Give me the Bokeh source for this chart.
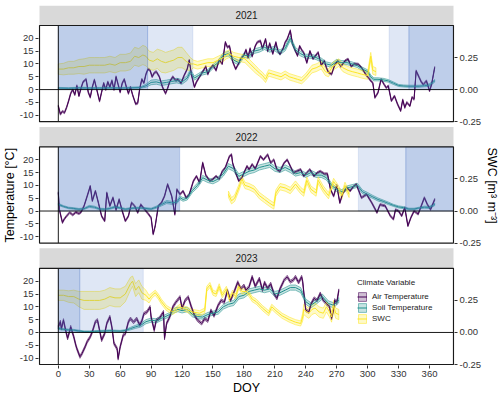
import math
from bokeh.plotting import figure
from bokeh.models import FixedTicker, LinearAxis, Legend, LegendItem, Range1d, Title
from bokeh.embed import file_html
from bokeh.resources import INLINE
from bokeh.core.properties import value

# ---------------- data ----------------
years = [2021, 2022, 2023]
var_names = ["Air Temperature", "Soil Temperature", "SWC"]
var_colors = ["#440154", "#21908C", "#FDE725"]
x_ticks = [0, 30, 60, 90, 120, 150, 180, 210, 240, 270, 300, 330, 360]
temp_ticks = [-10, -5, 0, 5, 10, 15, 20]
swc_ticks = [-0.25, 0.0, 0.25]
swc_tick_labels = ["-0.25", "0.00", "0.25"]
temp_limits = [-12.5, 25.0]
doy_limits = [-18.25, 383.25]
swc_factor = 50.0   # secondary axis: SWC = temperature / 50

# snow-cover periods (end None = to the panel edge)
snow_year = [2021, 2021, 2021, 2021, 2022, 2022, 2022, 2023, 2023]
snow_start = [0, 86.6, 320.8, 340.0, 0, 291.0, 337.0, 0, 20.8]
snow_end = [86.6, 130.5, 340.0, None, 117.7, 337.0, None, 20.8, 82.4]
snow_full = [True, False, False, True, True, False, True, True, False]

air_sd = [0.4, 0.4, 0.6]

air21 = [(0,-6.4),(2,-9.6),(4,-8.5),(6,-9.0),(8,-7.0),(10,-4.4),(12,-1.5),(14,0.0),(16,-2.0),(18,1.5),(20,-2.5),(22,0.5),(24,3.0),(27,4.0),(29,-1.0),(31,-3.0),(33,1.0),(35,3.8),(37,0.5),(40,-4.5),(42,-1.0),(44,2.5),(46,0.0),(48,3.0),(50,1.0),(52,3.5),(54,0.0),(56,5.0),(58,2.0),(60,-1.0),(62,2.5),(64,4.0),(66,1.0),(68,-1.5),(70,1.0),(72,-2.0),(75,-5.6),(77,-5.3),(79,0.5),(81,4.0),(83,2.6),(85,6.0),(87,8.0),(89,7.5),(91,5.0),(93,6.5),(95,7.0),(98,5.0),(101,1.0),(104,-1.5),(106,0.5),(108,3.0),(111,5.0),(114,3.5),(116,4.0),(119,2.5),(122,5.5),(125,8.0),(127,11.5),(129,6.0),(132,1.0),(134,3.0),(137,5.0),(140,7.0),(143,9.0),(145,6.0),(147,8.0),(150,9.5),(153,7.5),(156,11.6),(159,10.0),(162,18.5),(164,16.5),(166,17.0),(169,11.0),(172,8.0),(174,9.5),(177,12.0),(180,13.5),(182,15.5),(184,12.5),(186,16.0),(188,13.0),(191,17.0),(193,18.5),(196,19.0),(198,16.0),(201,19.7),(203,15.0),(205,18.0),(208,14.0),(211,18.4),(213,15.0),(215,13.8),(218,16.0),(220,18.4),(222,19.7),(225,23.0),(227,18.0),(230,15.0),(232,13.2),(234,17.0),(236,15.5),(238,14.4),(241,10.5),(244,15.0),(247,12.0),(250,13.5),(252,14.5),(255,9.5),(258,11.2),(260,8.5),(262,6.7),(265,6.0),(268,9.5),(271,11.2),(274,9.0),(278,11.2),(281,11.9),(284,9.0),(287,10.0),(291,9.9),(294,8.6),(296,7.3),(299,5.4),(301,4.5),(303,3.4),(305,2.6),(307,-3.1),(308,-2.5),(310,-1.2),(313,4.0),(316,2.0),(318,0.7),(320,1.4),(323,-4.4),(326,-2.5),(329,-5.7),(332,-8.3),(334,-4.0),(336,-7.0),(338,-5.0),(341,-6.4),(343,-3.0),(345,-3.8),(347,7.3),(350,4.7),(352,3.0),(354,2.0),(357,3.4),(360,-0.5),(362,2.0),(365,8.6)]

soil21 = [(0,0.6,0.25),(10,0.5,0.25),(20,0.7,0.25),(30,0.6,0.25),(40,0.6,0.25),(50,0.7,0.25),(60,0.6,0.25),(70,0.7,0.25),(80,0.8,0.3),(85,1.5,0.6),(90,2.8,0.9),(95,3.0,0.9),(100,2.5,0.9),(105,2.8,0.9),(110,3.2,0.9),(115,3.5,0.9),(120,3.0,0.9),(125,4.5,0.9),(128,7.0,0.9),(132,4.5,0.8),(136,5.5,0.8),(140,6.5,0.8),(145,7.0,0.8),(150,9.0,0.8),(155,10.5,0.8),(160,13.5,0.9),(165,14.0,0.9),(170,11.5,0.9),(175,10.5,0.9),(180,13.5,0.9),(185,13.0,0.9),(190,15.0,0.9),(195,15.5,0.9),(200,16.5,0.9),(205,15.5,0.9),(210,16.0,0.9),(215,14.5,0.9),(220,16.0,0.9),(225,20.0,0.9),(230,15.5,0.9),(235,14.0,0.9),(240,13.0,0.8),(245,13.0,0.8),(250,12.5,0.8),(255,11.5,0.8),(260,10.0,0.8),(265,9.5,0.8),(270,11.0,0.8),(275,10.5,0.8),(280,10.5,0.8),(285,10.0,0.8),(290,9.3,0.7),(295,8.0,0.7),(300,7.0,0.7),(303,5.0,0.7),(306,4.0,0.6),(310,4.0,0.6),(315,3.8,0.6),(320,3.4,0.5),(325,2.5,0.5),(330,1.6,0.4),(335,1.4,0.4),(340,1.3,0.4),(345,1.3,0.4),(350,1.3,0.4),(355,1.5,0.4),(360,1.8,0.5),(365,3.4,0.5)]

swc21 = [(0,0.16,0.04),(5,0.16,0.045),(10,0.17,0.05),(15,0.17,0.05),(20,0.18,0.055),(25,0.18,0.06),(30,0.19,0.06),(35,0.19,0.06),(40,0.19,0.06),(45,0.19,0.06),(50,0.20,0.06),(55,0.19,0.06),(60,0.21,0.065),(65,0.21,0.065),(70,0.22,0.065),(74,0.26,0.07),(78,0.25,0.07),(82,0.27,0.075),(85,0.26,0.075),(88,0.23,0.07),(92,0.22,0.07),(96,0.24,0.075),(100,0.22,0.085),(104,0.21,0.08),(108,0.22,0.08),(112,0.23,0.08),(116,0.25,0.08),(120,0.25,0.08),(124,0.22,0.07),(128,0.20,0.05),(131,0.20,0.03),(135,0.19,0.03),(140,0.20,0.03),(145,0.21,0.03),(150,0.21,0.03),(155,0.23,0.03),(160,0.25,0.03),(163,0.27,0.03),(166,0.28,0.03),(170,0.26,0.03),(175,0.25,0.03),(181,0.24,0.03),(186,0.20,0.03),(191,0.16,0.03),(195,0.13,0.025),(198,0.11,0.025),(201,0.08,0.025),(204,0.13,0.025),(208,0.12,0.025),(212,0.11,0.025),(216,0.10,0.025),(220,0.12,0.025),(224,0.10,0.025),(228,0.09,0.025),(232,0.08,0.025),(236,0.07,0.025),(240,0.10,0.025),(246,0.16,0.03),(250,0.17,0.03),(255,0.19,0.03),(259,0.14,0.03),(262,0.13,0.03),(266,0.18,0.03),(272,0.21,0.03),(276,0.17,0.03),(281,0.15,0.03),(285,0.14,0.03),(290,0.13,0.03),(294,0.12,0.03),(300,0.11,0.03),(303,0.26,0.03),(305,0.15,0.03),(308,0.14,0.03)]

air22 = [(0,7.1),(1,0.6),(4,-4.5),(6,-3.0),(8,-2.0),(11,-0.6),(14,-1.5),(17,-0.5),(20,-1.0),(22,-0.5),(25,2.0),(28,5.8),(31,9.7),(33,4.0),(36,7.8),(39,3.0),(42,-2.0),(45,-3.9),(47,7.1),(50,2.0),(53,5.2),(56,0.5),(59,4.5),(62,0.0),(65,-3.9),(68,-2.0),(71,3.2),(74,2.0),(77,-0.6),(80,2.5),(84,0.5),(87,-1.0),(90,-2.6),(92,-9.0),(94,-5.8),(97,2.0),(100,3.2),(103,5.8),(106,10.4),(110,5.8),(113,-1.3),(115,8.4),(118,6.5),(121,7.8),(124,5.2),(127,6.5),(131,11.7),(134,13.6),(137,11.0),(140,18.8),(143,14.0),(147,11.7),(150,12.5),(153,13.6),(156,12.5),(159,15.5),(162,17.0),(166,21.4),(168,22.0),(169,18.8),(172,14.9),(175,11.7),(178,13.0),(180,14.9),(183,17.5),(185,16.2),(188,18.2),(191,16.5),(196,21.4),(199,20.0),(203,22.0),(206,18.8),(209,20.0),(212,16.2),(215,15.5),(219,18.8),(222,20.0),(225,17.5),(228,14.9),(231,15.5),(235,16.2),(238,13.6),(241,15.0),(244,16.2),(248,13.6),(251,14.9),(254,15.5),(258,14.5),(261,14.5),(264,8.4),(267,5.8),(270,10.0),(273,3.2),(276,7.0),(280,9.1),(283,7.8),(286,9.5),(289,10.4),(294,5.2),(299,6.5),(304,3.2),(309,-0.6),(312,2.5),(317,2.0),(322,-1.9),(325,-3.2),(327,0.5),(330,0.0),(333,-1.9),(336,1.3),(339,-5.8),(342,-2.5),(345,0.0),(349,-1.2),(352,2.0),(355,5.2),(358,2.5),(361,0.6),(365,4.5)]

soil22 = [(0,2.6,0.4),(5,1.8,0.3),(10,1.2,0.3),(15,1.0,0.3),(20,0.7,0.3),(25,0.9,0.3),(30,1.8,0.4),(35,1.5,0.4),(40,0.8,0.3),(45,0.7,0.3),(50,1.0,0.3),(55,1.6,0.4),(60,1.2,0.3),(65,0.7,0.3),(70,1.0,0.3),(75,1.2,0.3),(80,1.2,0.3),(85,1.0,0.3),(90,0.8,0.3),(95,1.5,0.4),(100,2.5,0.5),(105,3.5,0.6),(110,3.2,0.6),(115,3.5,0.6),(118,5.2,0.7),(121,4.5,0.7),(125,5.0,0.7),(130,8.0,0.8),(135,10.0,0.9),(140,13.0,0.9),(145,12.0,0.9),(150,11.5,0.9),(155,12.5,0.9),(160,14.5,0.9),(165,17.5,1.0),(170,16.5,1.0),(175,13.5,1.0),(180,14.5,1.0),(185,15.5,1.0),(190,16.0,1.0),(195,17.0,1.0),(200,17.5,1.0),(205,18.0,1.0),(210,16.5,1.0),(215,16.0,1.0),(220,17.0,1.0),(225,16.0,1.0),(230,14.5,0.9),(235,15.0,0.9),(240,14.0,0.9),(245,15.0,0.9),(250,14.0,0.9),(255,14.0,0.9),(260,13.0,0.9),(265,10.0,0.8),(270,8.4,0.8),(275,7.5,0.8),(280,9.0,0.8),(285,9.5,0.8),(290,10.0,0.8),(295,7.5,0.7),(300,6.5,0.7),(305,5.5,0.6),(310,4.5,0.6),(315,3.8,0.5),(320,3.0,0.5),(325,2.2,0.4),(330,1.6,0.4),(335,1.3,0.4),(340,0.8,0.3),(345,0.8,0.3),(350,1.2,0.3),(355,1.5,0.4),(360,1.4,0.4),(365,2.6,0.5)]

swc22 = [(165,0.13,0.025),(168,0.08,0.025),(171,0.10,0.025),(175,0.18,0.025),(178,0.25,0.025),(181,0.20,0.025),(185,0.19,0.025),(190,0.17,0.025),(195,0.12,0.025),(200,0.09,0.025),(205,0.06,0.025),(209,0.04,0.025),(211,0.14,0.025),(215,0.19,0.025),(220,0.18,0.025),(225,0.16,0.025),(230,0.21,0.025),(235,0.16,0.025),(238,0.14,0.025),(241,0.24,0.025),(245,0.17,0.025),(250,0.14,0.025),(252,0.24,0.025),(257,0.17,0.025),(262,0.12,0.025),(267,0.23,0.025),(272,0.17,0.025),(275,0.12,0.025),(278,0.20,0.025),(282,0.13,0.025)]

air23 = [(0,2.2),(2,4.2),(3,1.5),(5,4.8),(7,1.0),(9,-2.3),(11,0.5),(12,2.2),(15,-1.7),(17,-5.0),(18,-6.3),(21,-9.5),(23,-8.2),(26,-5.6),(28,-3.6),(31,-1.7),(33,0.3),(36,4.2),(38,4.8),(40,0.9),(42,-3.0),(45,-0.4),(47,3.5),(50,6.1),(52,2.0),(54,-4.3),(57,-6.3),(58,-10.2),(60,-5.6),(63,-1.0),(65,-0.5),(68,4.2),(70,5.4),(73,4.0),(76,5.4),(79,2.9),(81,4.5),(83,7.3),(86,8.0),(89,9.9),(90,6.0),(93,0.9),(95,4.8),(98,5.5),(102,8.0),(103,-2.3),(105,3.5),(108,6.0),(111,9.9),(114,11.8),(118,13.8),(120,9.5),(123,12.5),(126,13.8),(129,10.0),(132,6.7),(135,4.8),(139,3.5),(142,5.4),(145,4.5),(148,8.6),(151,6.5),(155,10.6),(158,12.5),(161,11.8),(164,16.4),(167,12.5),(171,16.4),(174,19.6),(177,17.0),(180,18.3),(182,16.5),(185,17.8),(188,21.7),(191,18.0),(195,21.0),(198,16.5),(200,19.5),(203,17.2),(206,19.0),(209,15.2),(212,13.3),(215,17.0),(219,20.4),(222,21.7),(225,19.8),(228,20.5),(230,21.7),(233,19.5),(236,21.7),(237,19.8),(239,12.0),(240,8.7),(243,8.0),(245,11.0),(248,13.3),(251,12.5),(254,15.2),(257,12.5),(260,11.3),(263,10.0),(265,5.5),(267,9.0),(268,12.6),(270,11.5),(272,16.4)]

soil23 = [(0,1.6,0.4),(5,1.2,0.3),(10,1.0,0.3),(15,0.9,0.3),(20,0.6,0.3),(25,0.3,0.3),(30,0.3,0.3),(35,0.4,0.3),(40,0.5,0.3),(45,0.6,0.3),(50,0.7,0.3),(55,0.6,0.3),(60,0.5,0.3),(65,0.8,0.3),(70,1.5,0.5),(75,2.2,0.6),(80,2.8,0.7),(85,4.2,0.8),(90,4.8,0.8),(95,4.5,0.8),(100,5.5,0.8),(103,6.0,0.8),(108,7.0,0.8),(112,8.5,0.9),(116,9.0,0.9),(120,8.5,0.9),(125,9.0,0.9),(130,7.0,0.9),(135,6.2,0.8),(140,6.0,0.8),(145,7.0,0.8),(150,7.5,0.8),(155,8.0,0.9),(160,10.0,0.9),(165,11.0,1.0),(170,11.5,1.0),(175,14.0,1.0),(180,14.5,1.0),(185,16.0,1.0),(190,16.5,1.0),(195,17.0,1.0),(200,16.5,1.0),(205,17.0,1.0),(210,15.0,1.0),(215,15.5,1.0),(220,16.5,1.0),(225,17.5,1.0),(230,17.5,1.0),(235,16.5,1.0),(238,14.0,1.0),(240,12.0,1.0),(245,10.6,1.0),(250,12.0,1.0),(256,14.0,1.0),(262,11.3,1.0),(267,10.6,1.0),(272,12.6,1.0)]

swc23 = [(0,0.29,0.04),(5,0.29,0.04),(10,0.28,0.045),(15,0.28,0.05),(20,0.26,0.06),(25,0.25,0.07),(30,0.25,0.07),(35,0.25,0.07),(40,0.25,0.07),(45,0.26,0.07),(50,0.28,0.07),(55,0.27,0.07),(60,0.27,0.07),(65,0.30,0.06),(70,0.38,0.05),(72,0.40,0.04),(75,0.33,0.05),(78,0.36,0.05),(81,0.31,0.05),(85,0.29,0.04),(88,0.26,0.03),(91,0.29,0.02),(94,0.31,0.02),(97,0.28,0.02),(100,0.24,0.02),(105,0.19,0.02),(111,0.16,0.02),(118,0.20,0.02),(124,0.18,0.02),(130,0.16,0.02),(137,0.15,0.02),(142,0.17,0.02),(144,0.34,0.02),(147,0.37,0.02),(150,0.31,0.02),(153,0.30,0.02),(156,0.36,0.02),(159,0.29,0.02),(163,0.34,0.02),(166,0.26,0.02),(169,0.31,0.02),(172,0.28,0.02),(175,0.36,0.02),(178,0.32,0.02),(182,0.32,0.02),(185,0.30,0.02),(188,0.26,0.02),(192,0.24,0.02),(198,0.19,0.02),(204,0.15,0.02),(207,0.20,0.02),(211,0.17,0.02),(217,0.13,0.02),(224,0.10,0.02),(230,0.08,0.02),(235,0.07,0.02),(237,0.12,0.03),(238,0.18,0.04),(241,0.16,0.04),(243,0.15,0.04),(246,0.18,0.04),(249,0.19,0.04),(253,0.16,0.04),(257,0.15,0.04),(260,0.20,0.04),(263,0.16,0.04),(265,0.12,0.04),(267,0.21,0.04),(269,0.15,0.04),(272,0.14,0.04)]

air_data = [air21, air22, air23]
soil_data = [soil21, soil22, soil23]
swc_data = [swc21, swc22, swc23]

# ---------------- layout constants ----------------
FONT = "Liberation Sans"
W, H = 500, 399
BORDER_L, BORDER_R, BORDER_T, BORDER_B = 38, 44, 5, 34
BOX_W = W - BORDER_L - BORDER_R - 2          # panel box width in px
X0, X1 = doy_limits
PX_DAY = BOX_W / (X1 - X0)
PADX = 1.0 / PX_DAY
LO, HI = temp_limits
STRIP = 7.8
GAP = 2.07
STEP = (HI - LO) + STRIP + GAP
offsets = [2 * STEP, STEP, 0.0]            # 2021 top, 2023 bottom
Y_TOP = offsets[0] + HI + STRIP
BOX_H = H - BORDER_T - BORDER_B - 1
PX_UNIT = BOX_H / (Y_TOP - LO)
PADY = 1.0 / PX_UNIT

p = figure(width=W, height=H, output_backend="svg", toolbar_location=None,
           x_range=Range1d(X0 - PADX, X1 + PADX), y_range=Range1d(LO - PADY, Y_TOP),
           min_border_left=BORDER_L, min_border_right=BORDER_R,
           min_border_top=BORDER_T, min_border_bottom=BORDER_B,
           background_fill_color="white", border_fill_color="white")
p.outline_line_color = None
p.xgrid.visible = False
p.ygrid.visible = False

TICK_COL = "#333333"
def style_axis(ax):
    ax.axis_line_color = None
    ax.major_tick_line_color = TICK_COL
    ax.major_tick_out = 3
    ax.major_tick_in = 0
    ax.minor_tick_line_color = None
    ax.major_label_text_font = FONT
    ax.major_label_text_font_size = "9.5px"
    ax.major_label_text_color = TICK_COL
    ax.major_label_standoff = 2
    ax.axis_label_text_font = FONT
    ax.axis_label_text_font_size = "12.5px"
    ax.axis_label_text_font_style = "normal"
    ax.axis_label_text_color = "black"

# x axis
p.xaxis.ticker = FixedTicker(ticks=x_ticks)
style_axis(p.xaxis[0])
p.xaxis.axis_label = "DOY"
p.xaxis.axis_label_standoff = 1

# left temperature axis (one set of ticks per panel)
lt, lo_ = [], {}
for off in offsets:
    for t in temp_ticks:
        lt.append(t + off)
        lo_[t + off] = str(t)
p.yaxis.ticker = FixedTicker(ticks=lt)
p.yaxis.major_label_overrides = lo_
style_axis(p.yaxis[0])

# right SWC axis
rt, ro = [], {}
for off in offsets:
    for s, lab in zip(swc_ticks, swc_tick_labels):
        rt.append(s * swc_factor + off)
        ro[s * swc_factor + off] = lab
rax = LinearAxis(ticker=FixedTicker(ticks=rt), major_label_overrides=ro)
style_axis(rax)
p.add_layout(rax, "right")

# axis titles, positioned along the panel area
p.add_layout(Title(text="Temperature [°C]", align="left", offset=123, standoff=0,
                   text_font=FONT, text_font_size="12.5px", text_font_style="normal",
                   text_color="black"), "left")
p.add_layout(Title(text="SWC [m³ m⁻³]", align="left", offset=142, standoff=0,
                   text_font=FONT, text_font_size="12.5px", text_font_style="normal",
                   text_color="black"), "right")

legend_refs = []
for i, yr in enumerate(years):
    off = offsets[i]
    # strip
    p.quad(left=X0, right=X1, bottom=HI + off, top=HI + STRIP + off,
           fill_color="#D9D9D9", line_color=None)
    p.text(x=[(X0 + X1) / 2], y=[HI + STRIP / 2 + off], text=[str(yr)],
           text_font=value(FONT), text_font_size="10px", text_color="#1A1A1A",
           text_align="center", text_baseline="middle")

    series = []
    ad = air_data[i]
    series.append(([r[0] for r in ad], [r[1] for r in ad], [air_sd[i]] * len(ad), 1.0))
    sd_ = soil_data[i]
    series.append(([r[0] for r in sd_], [r[1] for r in sd_], [r[2] for r in sd_], 1.0))
    wd = swc_data[i]
    series.append(([r[0] for r in wd], [r[1] for r in wd], [r[2] for r in wd], swc_factor))

    patches = []
    for (d, m, s, f), col in zip(series, var_colors):
        up = [(a + b) * f + off for a, b in zip(m, s)]
        dn = [(a - b) * f + off for a, b in zip(m, s)]
        pr = p.patch(d + d[::-1], up + dn[::-1], fill_color=col, fill_alpha=0.25,
                     line_color=col, line_width=0.6, line_alpha=0.9)
        patches.append(pr)
    lines = []
    for (d, m, s, f), col in zip(series, var_colors):
        lr = p.line(d, [a * f + off for a in m], line_color=col, line_width=1.0)
        lines.append(lr)
    if i == 2:
        legend_refs = list(zip(patches, lines))

# snow shading (drawn above the data)
for yr, s0, s1, full in zip(snow_year, snow_start, snow_end, snow_full):
    off = offsets[years.index(yr)]
    right = X1 if s1 is None else s1
    a = 0.35 if full else 0.17
    p.quad(left=s0, right=right, bottom=0 + off, top=HI + off,
           fill_color="#4472C4", fill_alpha=a, line_color="#4472C4", line_alpha=a, line_width=0.8)

# reference lines and panel borders
for off in offsets:
    p.segment(x0=X0, x1=X1, y0=off, y1=off, line_color="black", line_width=0.9)
    p.segment(x0=0, x1=0, y0=LO + off, y1=HI + off, line_color="black", line_width=0.9)
    p.quad(left=X0, right=X1, bottom=LO + off, top=HI + off, fill_color=None,
           line_color="#1A1A1A", line_width=1.2)

items = [LegendItem(label=n, renderers=[pr, lr]) for n, (pr, lr) in zip(var_names, legend_refs)]
leg = Legend(items=items, location=(319, 41), title="Climate Variable",
             title_text_font=FONT, title_text_font_size="8px", title_text_font_style="normal",
             title_text_color="#1A1A1A", title_standoff=4,
             label_text_font=FONT, label_text_font_size="8px", label_text_color="#1A1A1A",
             glyph_height=11, glyph_width=10, label_height=11, label_standoff=5,
             spacing=0, padding=0, margin=0, border_line_color=None, background_fill_alpha=0)
p.add_layout(leg)

open("out.html", "w").write(file_html(p, INLINE))
